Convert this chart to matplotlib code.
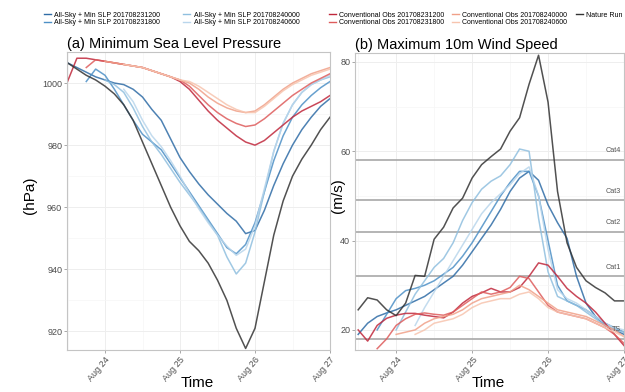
import pandas as pd
import matplotlib
matplotlib.use("Agg")
import matplotlib.pyplot as plt
import matplotlib.dates as mdates
from matplotlib.lines import Line2D

plt.rcParams['font.family'] = ['Liberation Sans', 'DejaVu Sans']

# 3-hourly output times; every run ends at 2017-08-27 00Z
times = pd.date_range("2017-08-23 12:00", "2017-08-27 00:00", freq="3h")

allsky_labels = [
    "All-Sky + Min SLP 201708231200", "All-Sky + Min SLP 201708231800",
    "All-Sky + Min SLP 201708240000", "All-Sky + Min SLP 201708240600",
]
conv_labels = [
    "Conventional Obs 201708231200", "Conventional Obs 201708231800",
    "Conventional Obs 201708240000", "Conventional Obs 201708240600",
    "Nature Run",
]

# ---- minimum sea level pressure (hPa) ----
slp_allsky_1200 = [1006.5, 1005, 1003.5, 1002, 1001, 1000, 999.5, 998, 995.5, 991.5,
                   988, 982, 976, 971.5, 967.5, 964, 961, 958, 955.5, 951.5,
                   952.5, 959, 967, 974, 980, 985, 989, 992.5, 995]
slp_allsky_1800 = [1000.5, 1004.5, 1002.5, 998, 993, 988, 983.5, 981, 978.5, 974,
                   969.5, 965, 960.5, 956, 951.5, 947, 945, 948, 955, 965,
                   975, 983, 989, 993, 996, 998.5, 1000.5]
slp_allsky_0000 = [1001, 999.5, 997, 992, 986, 981, 977, 972.5, 968, 964,
                   960, 955.5, 951, 944, 938.5, 942, 952, 965, 978, 987,
                   993, 997, 999.5, 1001, 1002]
slp_allsky_0600 = [998, 994, 988, 983, 979.5, 975, 970, 964.5, 959.5, 955,
                   951, 947.5, 944.5, 946.5, 954, 966, 978, 987, 993, 997,
                   999.5, 1001, 1002.5]
slp_conv_1200 = [1000.5, 1008, 1008, 1007.5, 1007, 1006.5, 1006, 1005.5, 1005, 1004,
                 1003, 1002, 1000.5, 998, 994.5, 991, 988, 985.5, 983, 981,
                 980, 981.5, 984, 986.5, 989, 991, 992.5, 994, 996]
slp_conv_1800 = [1005, 1007.5, 1007, 1006.5, 1006, 1005.5, 1005, 1004, 1003, 1002,
                 1001, 999, 996, 993, 990.5, 988.5, 987, 986, 986.5, 988.5,
                 991, 993.5, 996, 998, 1000, 1001.5, 1003]
slp_conv_0000 = [1007, 1006.5, 1006, 1005.5, 1005, 1004, 1003, 1002, 1001, 1000,
                 998, 995.5, 993.5, 992, 991, 990.5, 991, 993, 995.5, 998,
                 1000, 1001.5, 1003, 1004, 1005]
slp_conv_0600 = [1006, 1005.5, 1005, 1004, 1003, 1002, 1001, 1000.5, 999, 997,
                 995, 993, 991.5, 990.5, 990.5, 992.5, 995, 997.5, 999.5, 1001,
                 1002.5, 1003.5, 1004.5]
slp_nature = [1006.5, 1004.5, 1002.5, 1001, 999, 996.5, 993, 988, 981, 974,
              967, 960, 954, 949, 946, 942, 936.5, 930, 921, 914.5,
              921, 936, 951, 962, 970, 975.5, 980, 985, 989]

# ---- maximum 10 m wind speed (m/s) ----
wind_allsky_1200 = [19, 21.5, 23, 23.8, 24.5, 25.5, 26.5, 27.5, 29, 30.5,
                    32, 34.5, 37.5, 40.5, 43.5, 47, 51, 54, 55.5, 53.5,
                    48, 44, 40.5, 32, 26, 23, 21, 20, 19]
wind_allsky_1800 = [20, 23.5, 27, 28.8, 29.3, 30, 31, 32.5, 34, 36.5,
                    39.5, 43, 46.5, 50, 53, 55.5, 55.5, 50, 40, 30,
                    26.5, 25.5, 24.5, 23, 21.5, 20.5, 19.5]
wind_allsky_0000 = [20, 24, 28, 31, 34, 36, 39.5, 44.5, 48.5, 51.5,
                    53.3, 54.5, 57, 60.5, 60, 45, 33, 27.5, 26.5, 25.5,
                    24, 22.5, 21, 20, 19.5]
wind_allsky_0600 = [21, 25, 28.5, 32, 35.5, 39, 42.5, 46, 48.5, 50.5,
                    52.5, 55, 56.5, 50, 38, 29, 27, 26, 24.5, 23,
                    21.5, 20.5, 20]
wind_conv_1200 = [20, 17.5, 21, 22.6, 23.3, 23.7, 23.7, 23.3, 23, 22.7,
                  24, 26, 27.5, 28.3, 29.3, 28.5, 28.5, 29.5, 32, 35,
                  34.5, 32, 29.3, 27.5, 26, 24, 21.5, 19, 16.5]
wind_conv_1800 = [15.8, 18, 21, 22.5, 23.5, 23.8, 23.5, 23.3, 24, 25.5,
                  27, 28.5, 28, 28.5, 29.5, 32, 31.5, 28.5, 25.5, 24,
                  23.5, 23, 22.5, 21.5, 20.5, 19, 17]
wind_conv_0000 = [19, 19.5, 20, 21.5, 22.5, 23, 23.5, 24.5, 26, 27,
                  27.5, 28, 28.5, 30, 29, 27.5, 26, 24.5, 24, 23.5,
                  23, 22, 21, 20, 18.5]
wind_conv_0600 = [19, 20, 21.5, 22, 22.5, 23.5, 25, 26, 26.5, 27,
                  27, 28, 28.5, 27, 25, 24, 23.5, 23, 22.5, 21.5,
                  20.5, 19.5, 18.5]
wind_nature = [24.5, 27.2, 26.7, 24.5, 23.2, 26, 32.2, 32, 40.3, 43,
               47.3, 49.5, 54, 57, 58.8, 60.5, 64.5, 67.5, 75, 81.5,
               71, 51, 39.5, 34, 31, 29.5, 28.3, 26.5, 26.5]

# Saffir-Simpson thresholds (m/s)
cat_speeds = [17.9, 32, 42, 49, 58]
cat_labels = ["TS", "Cat1", "Cat2", "Cat3", "Cat4"]

allsky_colors = ['#2f6ca6', '#4d90c6', '#8fbfdf', '#b9d6ec']
conv_colors = ['#c0283c', '#de5c5c', '#f0a088', '#f7c4ae', '#333333']
run_colors = allsky_colors + conv_colors

slp_series = [slp_allsky_1200, slp_allsky_1800, slp_allsky_0000, slp_allsky_0600,
              slp_conv_1200, slp_conv_1800, slp_conv_0000, slp_conv_0600, slp_nature]
wind_series = [wind_allsky_1200, wind_allsky_1800, wind_allsky_0000, wind_allsky_0600,
               wind_conv_1200, wind_conv_1800, wind_conv_0000, wind_conv_0600, wind_nature]


def run_times(vals):
    return times[len(times) - len(vals):]


fig = plt.figure(figsize=(6.25, 3.92), dpi=100)
ax1 = fig.add_axes([0.1072, 0.1071, 0.4208, 0.7602])
ax2 = fig.add_axes([0.568, 0.1071, 0.4304, 0.7577])


def style_axis(ax):
    for sp in ax.spines.values():
        sp.set_color('#c4c4c4')
        sp.set_linewidth(0.8)
    ax.grid(True, which='major', color='#eeeeee', lw=0.7)
    ax.grid(True, which='minor', color='#f6f6f6', lw=0.5)
    ax.set_axisbelow(True)
    ax.tick_params(axis='both', which='major', length=2, width=0.6,
                   color='#9a9a9a', labelsize=6.5, labelcolor='#4d4d4d', pad=1.5)
    ax.tick_params(axis='both', which='minor', length=0)
    ax.xaxis.set_major_locator(mdates.DayLocator())
    ax.xaxis.set_minor_locator(mdates.HourLocator(byhour=[12]))
    ax.xaxis.set_major_formatter(mdates.DateFormatter('%b %d'))
    for lab in ax.get_xticklabels():
        lab.set_rotation(50)
        lab.set_ha('right')
        lab.set_va('top')
        lab.set_rotation_mode('anchor')
    ax.set_xlabel("Time", fontsize=11)
    ax.xaxis.set_label_coords(0.494, -0.087)


for vals, col in zip(slp_series, run_colors):
    ax1.plot(run_times(vals), vals, color=col, lw=1.1, alpha=0.85)
for vals, col in zip(wind_series, run_colors):
    ax2.plot(run_times(vals), vals, color=col, lw=1.1, alpha=0.85)

ax1.set_xlim(pd.Timestamp("2017-08-23 11:50"), pd.Timestamp("2017-08-27 00:00"))
ax1.set_ylim(914, 1010)
ax1.set_yticks([920, 940, 960, 980, 1000])
ax1.set_yticks([930, 950, 970, 990], minor=True)
style_axis(ax1)
ax1.set_ylabel("(hPa)", fontsize=11)
ax1.yaxis.set_label_coords(-0.114, 0.52)
ax1.set_title("(a) Minimum Sea Level Pressure", loc='left', fontsize=10.5, pad=3)

ax2.set_xlim(pd.Timestamp("2017-08-23 11:00"), pd.Timestamp("2017-08-27 00:00"))
ax2.set_ylim(15.5, 82)
ax2.set_yticks([20, 40, 60, 80])
ax2.set_yticks([30, 50, 70], minor=True)
style_axis(ax2)
ax2.set_ylabel("(m/s)", fontsize=11)
ax2.yaxis.set_label_coords(-0.037, 0.52)
ax2.set_title("(b) Maximum 10m Wind Speed", loc='left', fontsize=10.5, pad=3)

for spd, lab in zip(cat_speeds, cat_labels):
    ax2.axhline(spd, color='#a8a8a8', lw=1.2, zorder=1.5)
    ax2.text(0.99, spd + 1.3, lab, transform=ax2.get_yaxis_transform(),
             ha='right', va='bottom', fontsize=5.2, color='#555555')

legend_kw = dict(frameon=False, fontsize=5, handlelength=1.0,
                 handletextpad=0.45, labelspacing=0.05, borderaxespad=0.0,
                 borderpad=0.0)
allsky_handles = [Line2D([], [], color=c, lw=1.0) for c in allsky_colors]
conv_handles = [Line2D([], [], color=c, lw=1.0) for c in conv_colors]
fig.legend(allsky_handles, allsky_labels, loc='upper left',
           bbox_to_anchor=(0.070, 0.970), ncol=2, columnspacing=3.4, **legend_kw)
fig.legend(conv_handles, conv_labels, loc='upper left',
           bbox_to_anchor=(0.526, 0.970), ncol=3, columnspacing=1.2, **legend_kw)

fig.savefig("out.png", dpi=100)
